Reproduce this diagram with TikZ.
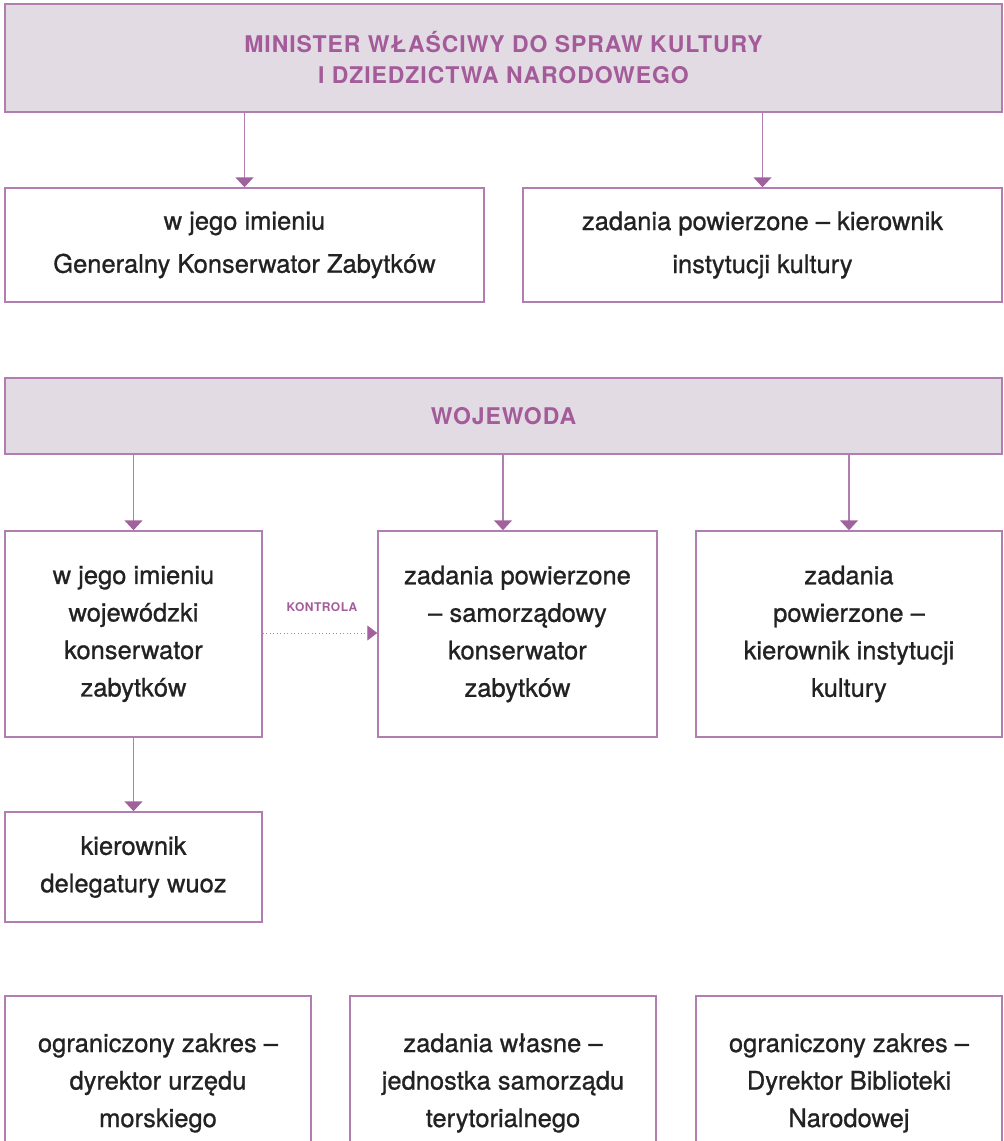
\documentclass[tikz,border=0pt]{standalone}
\usepackage{fontspec}
\setmainfont[FakeBold=0.9]{TeX Gyre Heros}
\newfontfamily\titlefont[LetterSpace=4]{TeX Gyre Heros}
\usetikzlibrary{arrows.meta}
\definecolor{lav}{HTML}{E3DBE4}
\definecolor{bord}{HTML}{B07EB0}
\definecolor{arr}{HTML}{A0619C}
\definecolor{ttl}{HTML}{A35C99}
\definecolor{txt}{HTML}{222222}
\tikzset{
  box/.style={draw=bord, line width=1.5pt, inner sep=0pt, align=center, text=txt,
    font=\fontsize{25.5}{37.5}\selectfont},
  topbox/.style={box, font=\fontsize{25.5}{43}\selectfont},
  headbox/.style={draw=bord, line width=1.5pt, fill=lav, inner sep=0pt, align=center, text=ttl,
    font=\titlefont\bfseries\fontsize{23}{31}\selectfont},
  conn/.style={draw=bord, line width=1.5pt, -{Triangle[width=18pt,length=10pt,color=arr]}},
  ctrl/.style={draw=bord, line width=1pt, dash pattern=on 1pt off 2.5pt,
    -{Triangle[width=15pt,length=10pt,color=arr,sep=0pt]}},
  ctrllabel/.style={text=ttl, inner sep=0pt, font=\titlefont\bfseries\fontsize{12}{14}\selectfont}
}
\begin{document}
\begin{tikzpicture}[x=1pt,y=-1pt]
\useasboundingbox (0,0) rectangle (1004,1141);
\clip (0,0) rectangle (1004,1141);
\fill[white] (0,0) rectangle (1004,1141);

% top level
\node[headbox, minimum width=997pt, minimum height=108pt] (min) at (503.5,58)
  {MINISTER WŁAŚCIWY DO SPRAW KULTURY\\I DZIEDZICTWA NARODOWEGO};
\node[topbox, minimum width=479pt, minimum height=114pt] (gkz) at (244.5,245)
  {w jego imieniu\\Generalny Konserwator Zabytków};
\node[topbox, minimum width=479pt, minimum height=114pt] (ik1) at (762.5,245)
  {zadania powierzone – kierownik\\instytucji kultury};
\draw[conn] (min.south -| gkz.north) -- (gkz.north);
\draw[conn] (min.south -| ik1.north) -- (ik1.north);

% wojewoda
\node[headbox, minimum width=997pt, minimum height=76pt] (woj) at (503.5,416) {WOJEWODA};
\node[box, minimum width=257pt, minimum height=206pt] (wkz) at (133.5,634) 
  {w jego imieniu\\wojewódzki\\konserwator\\zabytków};
\node[box, minimum width=279pt, minimum height=206pt] (skz) at (517.5,634)
  {zadania powierzone\\– samorządowy\\konserwator\\zabytków};
\node[box, minimum width=306pt, minimum height=206pt] (ik2) at (849,634)
  {zadania\\powierzone –\\kierownik instytucji\\kultury};
\coordinate (skzarr) at (503,0);
\draw[conn] (woj.south -| wkz.north) -- (wkz.north);
\draw[conn] (woj.south -| skzarr) -- (skz.north -| skzarr);
\draw[conn] (woj.south -| ik2.north) -- (ik2.north);

% kontrola
\draw[ctrl] (wkz.east |- 0,633) -- (skz.west |- 0,633);
\node[ctrllabel] (kon) at (322,607) {KONTROLA};

% delegatura
\node[box, minimum width=257pt, minimum height=110pt] (del) at (133.5,867)
  {kierownik\\delegatury wuoz};
\draw[conn] (wkz.south) -- (del.north);

% bottom row
\node[box, minimum width=306pt, minimum height=174pt] (urm) at (158,1083)
  {ograniczony zakres –\\dyrektor urzędu\\morskiego};
\node[box, minimum width=306pt, minimum height=174pt] (jst) at (503,1083)
  {zadania własne –\\jednostka samorządu\\terytorialnego};
\node[box, minimum width=306pt, minimum height=174pt] (bn) at (849,1083)
  {ograniczony zakres –\\Dyrektor Biblioteki\\Narodowej};
\end{tikzpicture}
\end{document}
